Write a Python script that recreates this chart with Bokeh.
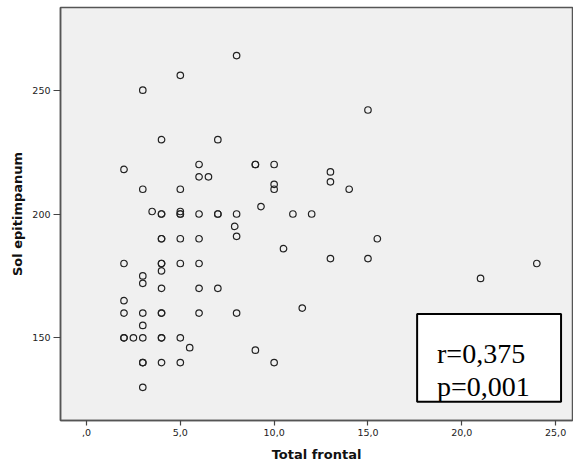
from bokeh.plotting import figure
from bokeh.models import Range1d, FixedTicker, BoxAnnotation, Label, ColumnDataSource
from bokeh.embed import file_html
from bokeh.resources import INLINE

# ---- data ----
total_frontal = [8, 5, 3, 15, 4, 7, 2, 6, 9, 9, 10, 13, 6, 6.5, 13, 10, 10, 3, 5, 14,
                 9.3, 3.5, 4, 4, 5, 5, 5, 6, 7, 7, 8, 11, 12, 7.9, 8, 4, 4, 5, 6, 15.5,
                 10.5, 13, 15, 2, 4, 4, 5, 6, 24, 4, 3, 21, 3, 4, 6, 7, 2, 11.5, 2, 3,
                 4, 4, 6, 8, 3, 2, 2, 2.5, 3, 4, 4, 5, 5.5, 9, 3, 3, 4, 5, 10, 3]
sol_epitimpanum = [264, 256, 250, 242, 230, 230, 218, 220, 220, 220, 220, 217, 215, 215, 213, 212, 210, 210, 210, 210,
                   203, 201, 200, 200, 201, 200, 200, 200, 200, 200, 200, 200, 200, 195, 191, 190, 190, 190, 190, 190,
                   186, 182, 182, 180, 180, 180, 180, 180, 180, 177, 175, 174, 172, 170, 170, 170, 165, 162, 160, 160,
                   160, 160, 160, 160, 155, 150, 150, 150, 150, 150, 150, 150, 146, 145, 140, 140, 140, 140, 140, 130]

x_ticks = [0, 5, 10, 15, 20, 25]
x_tick_labels = [",0", "5,0", "10,0", "15,0", "20,0", "25,0"]
y_ticks = [150, 200, 250]
y_tick_labels = ["150", "200", "250"]

x_title = "Total frontal"
y_title = "Sol epitimpanum"
stat_lines = ["r=0,375", "p=0,001"]

source = ColumnDataSource(data=dict(x=total_frontal, y=sol_epitimpanum))

p = figure(width=573, height=465,
           x_range=Range1d(-1.385, 25.9), y_range=Range1d(116.6, 283.4),
           output_backend="svg", toolbar_location=None,
           min_border_left=60, min_border_right=1, min_border_top=7, min_border_bottom=45,
           background_fill_color="#f0f0f0", border_fill_color="white")

p.outline_line_color = "#555555"
p.outline_line_width = 1.5
p.grid.visible = False

p.scatter("x", "y", source=source, marker="circle", size=6.5,
          fill_color=None, line_color="#222222", line_width=1.2)

# axes
p.xaxis.ticker = FixedTicker(ticks=x_ticks)
p.xaxis.major_label_overrides = {t: l for t, l in zip(x_ticks, x_tick_labels)}
p.yaxis.ticker = FixedTicker(ticks=y_ticks)
p.yaxis.major_label_overrides = {t: l for t, l in zip(y_ticks, y_tick_labels)}

for ax in (p.xaxis, p.yaxis):
    ax.axis_line_color = "#555555"
    ax.axis_line_width = 1.5
    ax.major_tick_line_color = "#444444"
    ax.major_tick_line_width = 1.2
    ax.major_tick_in = 0
    ax.minor_tick_line_color = None
    ax.major_label_text_font = "DejaVu Sans"
    ax.major_label_text_font_size = "9.5px"
    ax.major_label_text_color = "#222222"
    ax.axis_label_text_font = "DejaVu Sans"
    ax.axis_label_text_font_style = "bold"
    ax.axis_label_text_font_size = "13px"
    ax.axis_label_text_color = "#111111"

p.xaxis.major_tick_out = 5
p.xaxis.major_label_standoff = 3
p.xaxis.axis_label_standoff = 8
p.yaxis.major_tick_out = 7
p.yaxis.major_label_standoff = 3
p.yaxis.axis_label_standoff = 4

p.xaxis.axis_label = x_title
p.yaxis.axis_label = y_title

# statistics box
box = BoxAnnotation(left=17.62, right=25.29, bottom=124.2, top=159.6,
                    fill_color="white", fill_alpha=1.0,
                    line_color="black", line_alpha=1.0, line_width=2)
p.add_layout(box)
p.add_layout(Label(x=18.68, y=143.7, text=stat_lines[0], text_font="Liberation Serif",
                   text_font_size="28px", text_baseline="alphabetic", text_color="black"))
p.add_layout(Label(x=18.68, y=130.25, text=stat_lines[1], text_font="Liberation Serif",
                   text_font_size="28px", text_baseline="alphabetic", text_color="black"))

open("out.html", "w").write(file_html(p, INLINE))
